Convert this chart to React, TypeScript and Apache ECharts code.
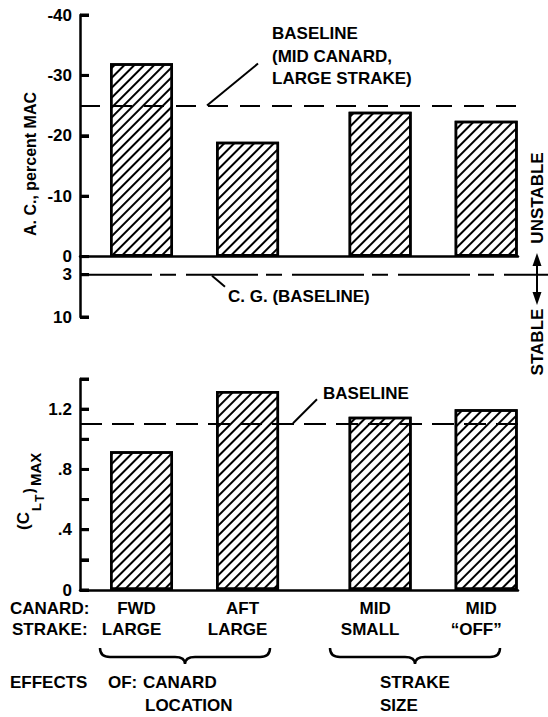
import React, { useEffect, useRef } from 'react';
import * as echarts from 'echarts';

// ---- data ----
const positions = [1, 2, 3.25, 4.25];
const canardLabels = ['FWD', 'AFT', 'MID', 'MID'];
const strakeLabels = ['LARGE', 'LARGE', 'SMALL', '\u201COFF\u201D'];
const acValues = [-32, -19, -24, -22.5];
const clValues = [0.92, 1.32, 1.15, 1.2];
const acBaseline = -25;
const cgBaseline = 3;
const clBaseline = 1.1;
const acTickValues = [-40, -30, -20, -10, 0, 3, 10];
const clTickValues = [0, 0.2, 0.4, 0.6, 0.8, 1.0, 1.2, 1.4];
const clLabelValues = [0, 0.4, 0.8, 1.2];

const FONT = '"Liberation Sans", Arial, Helvetica, sans-serif';

echarts.graphic.registerShape(
  'brace',
  echarts.graphic.extendPath(
    'M0,0 Q0,9 10,9 L75,9 Q85,9 85,16 Q85,9 95,9 L160,9 Q170,9 170,0',
    {}
  )
);

const hatch = {
  symbol: 'rect',
  symbolSize: 1,
  dashArrayX: [1, 0],
  dashArrayY: [2, 5],
  rotation: -Math.PI / 4,
  color: '#000',
  backgroundColor: '#fff',
};

const barItem = {
  color: '#fff',
  borderColor: '#000',
  borderWidth: 2.5,
  decal: hatch,
};

const axisTextStyle = {
  color: '#000',
  fontSize: 17,
  fontWeight: 'bold',
  fontFamily: FONT,
};

function txt(text: string, x: number, y: number, opts: any = {}) {
  return {
    type: 'text',
    x,
    y,
    rotation: opts.rotation || 0,
    z: 10,
    style: {
      text,
      fill: '#000',
      fontFamily: FONT,
      fontWeight: 'bold',
      fontSize: opts.size || 17,
      align: opts.align || 'left',
      verticalAlign: 'middle',
    },
  };
}

function line(x1: number, y1: number, x2: number, y2: number, w = 2, dash?: number[]) {
  const style: any = { stroke: '#000', lineWidth: w };
  if (dash) style.lineDash = dash;
  return {
    type: 'line',
    z: 30,
    shape: { x1, y1, x2, y2 },
    style,
  };
}

export default function App() {
  const ref = useRef<HTMLDivElement>(null);
  useEffect(() => {
    const chart = echarts.init(ref.current!, null, { renderer: 'svg' });
    const option: any = {
      animation: false,
      backgroundColor: '#fff',
      grid: [
        { left: 80, top: 15, width: 438, height: 302 },
        { left: 80, top: 379, width: 438, height: 211 },
      ],
      xAxis: [
        {
          type: 'value',
          gridIndex: 0,
          min: 0.42,
          max: 4.55,
          axisLine: { show: true, onZero: true, lineStyle: { color: '#000', width: 2.5 } },
          axisTick: { show: false },
          axisLabel: { show: false },
          splitLine: { show: false },
        },
        {
          type: 'value',
          gridIndex: 1,
          min: 0.42,
          max: 4.55,
          axisLine: { show: true, lineStyle: { color: '#000', width: 2.5 } },
          axisTick: { show: false },
          splitLine: { show: false },
          axisLabel: {
            show: true,
            customValues: positions,
            margin: 8,
            formatter: (v: number) => {
              const i = positions.indexOf(v);
              if (i < 0) return '';
              return `{c|${canardLabels[i]}}\n{s|${strakeLabels[i]}}`;
            },
            rich: {
              c: { ...axisTextStyle, lineHeight: 21, padding: [0, 10, 0, 0] },
              s: { ...axisTextStyle, lineHeight: 21, padding: [0, 20, 0, 0] },
            },
          },
        },
      ],
      yAxis: [
        {
          type: 'value',
          gridIndex: 0,
          inverse: true,
          min: -40,
          max: 10,
          interval: 10,
          axisLine: { show: true, lineStyle: { color: '#000', width: 2.5 } },
          axisTick: {
            show: true,
            inside: true,
            length: 9,
            customValues: acTickValues,
            lineStyle: { color: '#000', width: 3 },
          },
          axisLabel: {
            ...axisTextStyle,
            margin: 8,
            customValues: acTickValues,
            formatter: (v: number) => String(v),
          },
          splitLine: { show: false },
        },
        {
          type: 'value',
          gridIndex: 1,
          min: 0,
          max: 1.4,
          interval: 0.2,
          axisLine: { show: true, lineStyle: { color: '#000', width: 2.5 } },
          axisTick: {
            show: true,
            inside: true,
            length: 9,
            customValues: clTickValues,
            lineStyle: { color: '#000', width: 3 },
          },
          axisLabel: {
            ...axisTextStyle,
            margin: 8,
            customValues: clLabelValues,
            formatter: (v: number) => (v === 0 ? '0' : v.toFixed(1).replace(/^0/, '')),
          },
          splitLine: { show: false },
        },
      ],
      series: [
        {
          type: 'bar',
          xAxisIndex: 0,
          yAxisIndex: 0,
          barWidth: 63,
          clip: false,
          data: positions.map((p, i) => [p, acValues[i]]),
          itemStyle: barItem,
          markLine: {
            silent: true,
            symbol: 'none',
            label: { show: false },
            lineStyle: { color: '#000', width: 2, type: [20, 12] },
            data: [{ yAxis: acBaseline }],
          },
        },
        {
          type: 'bar',
          xAxisIndex: 1,
          yAxisIndex: 1,
          barWidth: 63,
          clip: false,
          data: positions.map((p, i) => [p, clValues[i]]),
          itemStyle: barItem,
          markLine: {
            silent: true,
            symbol: 'none',
            label: { show: false },
            lineStyle: { color: '#000', width: 2, type: [22, 10] },
            data: [{ yAxis: clBaseline }],
          },
        },
      ],
    };
    chart.setOption(option);

    const pTop = (x: number, y: number) => chart.convertToPixel({ gridIndex: 0 }, [x, y]) as number[];
    const pBot = (x: number, y: number) => chart.convertToPixel({ gridIndex: 1 }, [x, y]) as number[];
    const left = pTop(0.42, 0)[0];
    const yCG = pTop(1, cgBaseline)[1];
    const yAC = pTop(1, acBaseline)[1];
    const yCL = pBot(1, clBaseline)[1];

    const ticks: any[] = [];
    acTickValues.forEach((v) => {
      const y = pTop(1, v)[1];
      ticks.push(line(left, y, left + 9, y, 3));
    });
    clTickValues.forEach((v) => {
      const y = pBot(1, v)[1];
      ticks.push(line(left, y, left + 9, y, 3));
    });

    const graphic: any[] = [
      // C.G. baseline line
      line(left, yCG, 548, yCG, 2, [72, 8, 16, 10]),
      line(212, yCG + 1, 225, yCG + 12, 2),
      txt('C. G. (BASELINE)', 228, yCG + 22),
      // top baseline annotation
      line(207, yAC, 258, yAC - 42, 2),
      txt('BASELINE', 272, 33),
      txt('(MID CANARD,', 272, 56),
      txt('LARGE STRAKE)', 272, 78),
      // bottom baseline annotation
      line(293, yCL - 1, 317, yCL - 25, 2),
      txt('BASELINE', 323, yCL - 31),
      // y titles
      txt('A. C., percent MAC', 30, 164, { rotation: Math.PI / 2, align: 'center', size: 16 }),
      txt('(C', 23, 530, { rotation: Math.PI / 2, size: 17 }),
      txt('L', 36, 511, { rotation: Math.PI / 2, size: 13 }),
      txt('T', 40, 502, { rotation: Math.PI / 2, size: 12 }),
      txt(')', 29, 493, { rotation: Math.PI / 2, size: 14 }),
      txt('MAX', 35, 486, { rotation: Math.PI / 2, size: 15 }),
      // right side
      txt('UNSTABLE', 537, 198, { rotation: Math.PI / 2, align: 'center' }),
      txt('STABLE', 537, 342, { rotation: Math.PI / 2, align: 'center' }),
      line(537, 260, 537, 298, 2),
      {
        type: 'polygon',
        z: 10,
        shape: { points: [[537, 253], [532.5, 266], [541.5, 266]] },
        style: { fill: '#000' },
      },
      {
        type: 'polygon',
        z: 10,
        shape: { points: [[537, 305], [532.5, 292], [541.5, 292]] },
        style: { fill: '#000' },
      },
      // bottom labels
      txt('CANARD:', 10, 608),
      txt('STRAKE:', 12, 629),
      { type: 'brace', x: 100, y: 648, z: 10, style: { stroke: '#000', lineWidth: 2.5, fill: null } },
      { type: 'brace', x: 330, y: 648, z: 10, style: { stroke: '#000', lineWidth: 2.5, fill: null } },
      txt('EFFECTS', 10, 682),
      txt('OF:', 108, 682),
      txt('CANARD', 143, 682),
      txt('LOCATION', 145, 705),
      txt('STRAKE', 380, 682),
      txt('SIZE', 380, 705),
      ...ticks,
    ];
    chart.setOption({ graphic });
    return () => chart.dispose();
  }, []);
  return (
    <div
      ref={ref}
      style={{ position: 'absolute', left: 0, top: 0, width: 548, height: 717 }}
    />
  );
}
